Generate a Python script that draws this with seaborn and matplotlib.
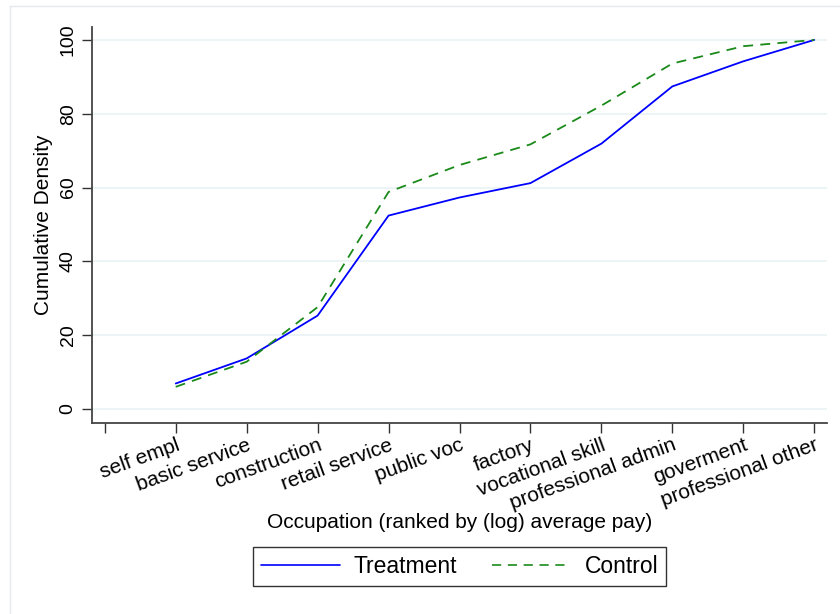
import matplotlib
matplotlib.use("Agg")
import matplotlib.pyplot as plt
from matplotlib.lines import Line2D
import seaborn as sns
import pandas as pd

# ---- data ----
occupations = ["self empl", "basic service", "construction", "retail service",
               "public voc", "factory", "vocational skill", "professional admin",
               "goverment", "professional other"]
treatment = [6.9, 13.7, 25.3, 52.4, 57.3, 61.2, 71.9, 87.4, 94.2, 100.0]
control = [6.0, 12.8, 27.6, 58.8, 66.1, 71.7, 82.2, 93.6, 98.3, 100.0]
y_ticks = [0, 20, 40, 60, 80, 100]

positions = list(range(1, len(occupations) + 1))
df = pd.concat([
    pd.DataFrame({"pos": positions, "value": treatment, "group": "Treatment"}),
    pd.DataFrame({"pos": positions, "value": control, "group": "Control"}),
], ignore_index=True)

sns.set_theme(style="white")
plt.rcParams["font.family"] = ["Liberation Sans", "DejaVu Sans"]
plt.rcParams.update({"text.color": "black", "axes.labelcolor": "black",
                     "xtick.color": "#333333", "ytick.color": "#333333"})

W, H = 840, 614
fig = plt.figure(figsize=(W / 100, H / 100), dpi=100)
fig.patch.set_facecolor("white")
ax = fig.add_axes([92 / W, 1 - 423 / H, (827 - 92) / W, (423 - 27) / H])

for yv in y_ticks:
    ax.axhline(yv, color="#EAF2F3", lw=1.2, zorder=0)

sns.lineplot(data=df, x="pos", y="value", hue="group", style="group",
             palette={"Treatment": "#0000FF", "Control": "#1A8A1A"},
             dashes={"Treatment": "", "Control": (5.5, 4)},
             linewidth=1.3, ax=ax, legend=False, zorder=3)

ax.set_xlim(-0.18, 10.18)
ax.set_ylim(-3.8, 103.5)
ax.set_xticks(range(0, len(occupations) + 1))
ax.set_xticklabels([""] + occupations, rotation=20, ha="right",
                   rotation_mode="anchor", fontsize=15, color="black")
ax.set_yticks(y_ticks)
ax.set_yticklabels([str(v) for v in y_ticks], rotation=90, va="center",
                   fontsize=14, color="black")
ax.tick_params(axis="both", direction="out", length=7, width=1,
               color="#333333", bottom=True, left=True)
ax.tick_params(axis="x", pad=2)
ax.tick_params(axis="y", pad=4)
ax.set_xlabel("Occupation (ranked by (log) average pay)", fontsize=15,
              labelpad=0, color="black")
ax.set_ylabel("Cumulative Density", fontsize=15, labelpad=5, color="black")

for side in ["top", "right"]:
    ax.spines[side].set_visible(False)
for side in ["left", "bottom"]:
    ax.spines[side].set_color("#444444")
    ax.spines[side].set_linewidth(1.3)
ax.set_facecolor("white")

handles = [Line2D([], [], color="#0000FF", lw=1.2),
           Line2D([], [], color="#1A8A1A", lw=1.2, dashes=(5.5, 4))]
leg = fig.legend(handles, ["Treatment", "Control"], loc="center",
                 bbox_to_anchor=(459.5 / W, 1 - 566.5 / H), ncol=2,
                 fontsize=16.5, frameon=True, fancybox=False,
                 handlelength=3.45, columnspacing=1.5, handletextpad=0.6,
                 borderpad=0.35, borderaxespad=0)
leg.get_frame().set_edgecolor("black")
leg.get_frame().set_linewidth(1.0)
for t in leg.get_texts():
    t.set_color("black")

# outer graph-region frame (partially cropped)
fig.add_artist(Line2D([9.5 / W, 9.5 / W], [0, 1 - 5.5 / H],
                      transform=fig.transFigure, color="#E2EAEC", lw=1))
fig.add_artist(Line2D([9.5 / W, 1], [1 - 5.5 / H, 1 - 5.5 / H],
                      transform=fig.transFigure, color="#E2EAEC", lw=1))

fig.savefig("out.png", dpi=100)
